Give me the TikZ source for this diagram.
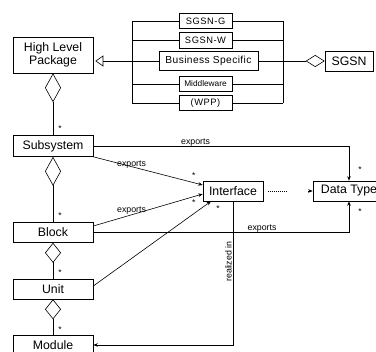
\documentclass[tikz,border=0pt]{standalone}
\usepackage{fontspec}
\setmainfont{Liberation Sans}
\usetikzlibrary{arrows.meta}
\begin{document}
\begin{tikzpicture}[x=1pt,y=-1pt,
  every node/.style={inner sep=0pt},
  cls/.style={draw, line width=0.6pt, fill=white, minimum width=80pt, minimum height=20pt,
              font=\fontsize{12.3}{13.5}\selectfont},
  pkg/.style={draw, line width=0.6pt, fill=white, minimum width=53pt, minimum height=15pt,
              font=\fontsize{9.3}{10}\selectfont\addfontfeatures{LetterSpace=6}},
  conn/.style={line width=0.6pt},
  tip/.style={-{Stealth[length=4.5pt,width=3.5pt]}},
  agg/.style={{Diamond[open,length=#1,width=16pt]}-},
  lbl/.style={font=\fontsize{8.8}{9}\selectfont},
  mult/.style={font=\fontsize{8.5}{8.5}\selectfont}]

\useasboundingbox (0,0) rectangle (376,352);

% class boxes
\node[cls, minimum height=36pt, align=center] (hlp) at (53,55) {High Level\\Package};
\node[cls, minimum height=21pt] (sub) at (53,146) {Subsystem};
\node[cls] (block) at (53,232.5) {Block};
\node[cls] (unit) at (53,289) {Unit};
\node[cls] (module) at (53,345) {Module};
\node[cls, minimum width=60pt] (iface) at (233,191) {Interface};
\node[cls, minimum width=72pt] (dtype) at (349,191) {Data Type};
\node[cls, minimum width=48pt] (sgsn) at (349,61) {SGSN};

% specialisations of the high level package
\node[pkg] (sg) at (205.5,21) {SGSN-G};
\node[pkg, minimum height=16pt] (sw) at (205.5,40) {SGSN-W};
\node[pkg, minimum width=99pt, minimum height=19pt, font=\fontsize{10.2}{11}\selectfont\addfontfeatures{LetterSpace=4}] (bs) at (208.5,61) {Business Specific};
\node[pkg, font=\fontsize{8.3}{8.5}\selectfont] (mw) at (205.5,84) {Middleware};
\node[pkg] (wpp) at (205.5,103) {(WPP)};

% bracket lines joining the specialisations
\coordinate (lbr) at (132,0);
\coordinate (rbr) at (283,0);
\draw[conn] (sg.west -| lbr) -- (wpp.west -| lbr);
\draw[conn] (sg.east -| rbr) -- (wpp.east -| rbr);
\foreach \b in {sg,sw,mw,wpp} {
  \draw[conn] (\b.west -| lbr) -- (\b.west);
  \draw[conn] (\b.east) -- (\b.east -| rbr);
}
\draw[conn, -{Triangle[open,length=8pt,width=11pt]}, shorten >=2pt] (bs.west) -- (hlp.east |- bs.west);
\draw[conn, {Diamond[open,length=19pt,width=12pt]}-] (sgsn.west) -- (bs.east);

% containment hierarchy
\draw[conn, agg=29pt] (hlp.south) -- (sub.north);
\draw[conn, agg=29pt] (sub.south) -- (block.north);
\draw[conn, agg=20pt] (block.south) -- (unit.north);
\draw[conn, agg=20pt] (unit.south) -- (module.north);

% exports relations
\draw[conn, tip] (sub.east) -| node[lbl, pos=0.2, anchor=base, yshift=1.5pt] (e1) {exports} (dtype.north);
\draw[conn, tip] (sub.south east) -- node[lbl, pos=0.35, anchor=base] (e2) {exports} ([yshift=6pt]iface.west);
\draw[conn, tip] ([yshift=6.5pt]block.east) -- node[lbl, pos=0.35, anchor=base, yshift=2pt] (e3) {exports} ([yshift=-3pt]iface.west);
\draw[conn, tip] (block.east) -| node[lbl, pos=0.33, anchor=base, yshift=1.5pt] (e4) {exports} (dtype.south);
\draw[conn, tip] ([yshift=3pt]unit.east) -- ([xshift=-22pt]iface.south);
\draw[conn, tip] (iface.south) |- node[lbl, pos=0.21, rotate=90, anchor=south, yshift=1pt] (ri) {realized in} (module.east);

% dependency between interface and data type
\draw[conn, tip, dash pattern=on 0pt off 5pt on 1pt off 1pt on 1pt off 1pt on 1pt off 1pt
  on 1pt off 1pt on 1pt off 1pt on 1pt off 1pt on 1pt off 1pt on 1pt off 1pt on 1pt off 1pt
  on 1pt off 21pt on 6pt off 1pt] (iface.east) -- (dtype.west);

% multiplicities
\node[mult] (m1) at ([shift={(7pt,7pt)}]sub.north) {*};
\node[mult] (m2) at ([shift={(7pt,7pt)}]block.north) {*};
\node[mult] (m3) at ([shift={(7pt,6pt)}]unit.north) {*};
\node[mult] (m4) at ([shift={(7pt,5pt)}]module.north) {*};
\node[mult] (m5) at ([shift={(11pt,11pt)}]dtype.north) {*};
\node[mult] (m6) at ([shift={(11pt,-10pt)}]dtype.south) {*};
\node[mult] (m7) at ([shift={(-9pt,15pt)}]iface.west) {*};
\node[mult] (m8) at ([shift={(-9pt,-12pt)}]iface.west) {*};
\node[mult] (m9) at ([shift={(-15pt,-7pt)}]iface.south) {*};
\end{tikzpicture}
\end{document}
